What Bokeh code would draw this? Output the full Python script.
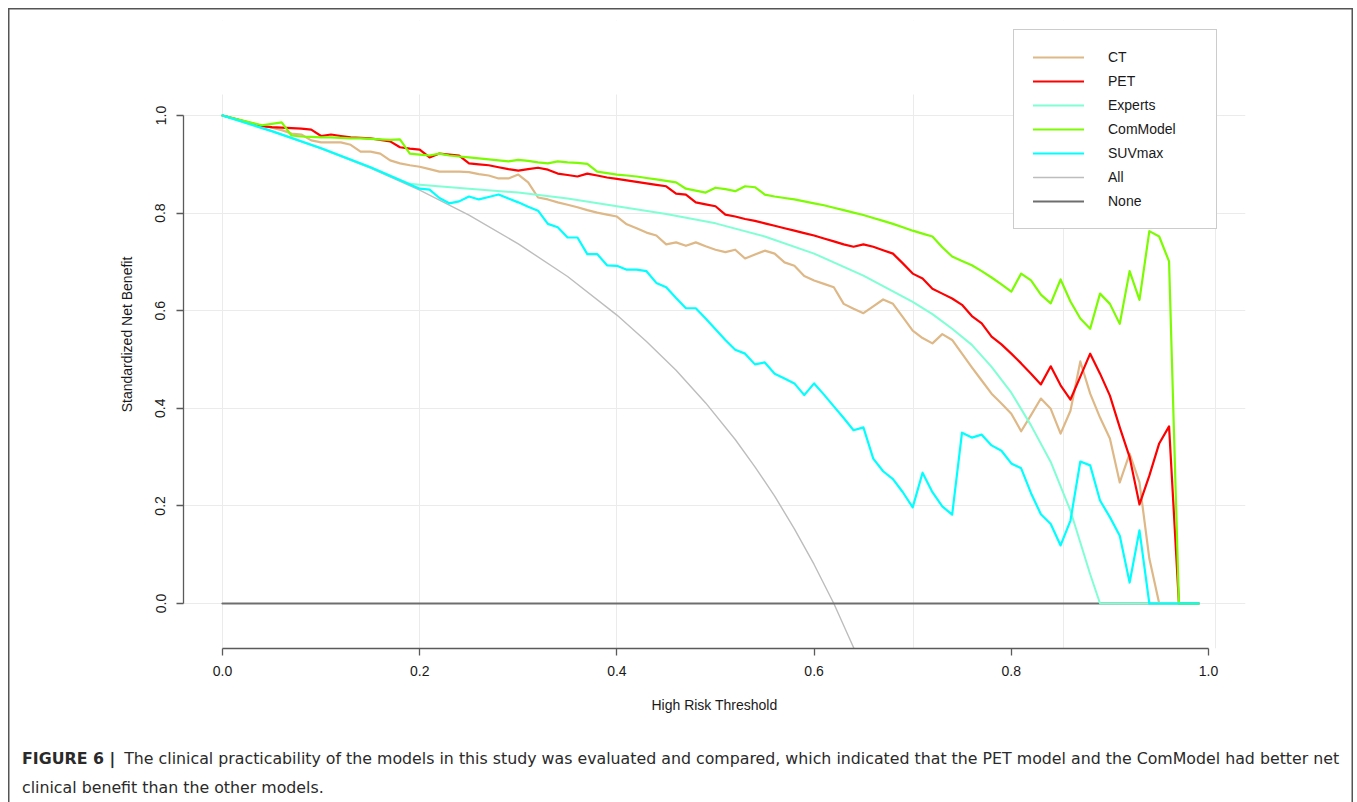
from bokeh.plotting import figure
from bokeh.layouts import column
from bokeh.models import (Range1d, FixedTicker, NumeralTickFormatter, Legend,
                          LegendItem, BoxAnnotation, Div)
from bokeh.embed import file_html
from bokeh.resources import INLINE

# ---------------- data ----------------
thresholds = [0.00, 0.04, 0.05, 0.06, 0.07, 0.08, 0.09,
              0.10, 0.11, 0.12, 0.13, 0.14, 0.15, 0.16, 0.17, 0.18, 0.19,
              0.20, 0.21, 0.22, 0.23, 0.24, 0.25, 0.26, 0.27, 0.28, 0.29,
              0.30, 0.31, 0.32, 0.33, 0.34, 0.35, 0.36, 0.37, 0.38, 0.39,
              0.40, 0.41, 0.42, 0.43, 0.44, 0.45, 0.46, 0.47, 0.48, 0.49,
              0.50, 0.51, 0.52, 0.53, 0.54, 0.55, 0.56, 0.57, 0.58, 0.59,
              0.60, 0.61, 0.62, 0.63, 0.64, 0.65, 0.66, 0.67, 0.68, 0.69,
              0.70, 0.71, 0.72, 0.73, 0.74, 0.75, 0.76, 0.77, 0.78, 0.79,
              0.80, 0.81, 0.82, 0.83, 0.84, 0.85, 0.86, 0.87, 0.88, 0.89,
              0.90, 0.91, 0.92, 0.93, 0.94, 0.95, 0.96, 0.97, 0.98, 0.99]

ct_snb = [1.000,
          0.979, 0.975, 0.970, 0.963, 0.961, 0.949,
          0.945, 0.945, 0.945, 0.940, 0.926, 0.926, 0.922, 0.908, 0.902, 0.898,
          0.895, 0.890, 0.885, 0.885, 0.885, 0.884, 0.880, 0.877, 0.871, 0.871,
          0.879, 0.863, 0.832, 0.828, 0.822, 0.817, 0.812, 0.806, 0.801, 0.797,
          0.793, 0.777, 0.769, 0.760, 0.754, 0.736, 0.740, 0.733, 0.740, 0.732,
          0.725, 0.720, 0.725, 0.707, 0.715, 0.723, 0.717, 0.699, 0.692, 0.671,
          0.662, 0.655, 0.648, 0.614, 0.604, 0.595, 0.609, 0.623, 0.614, 0.587,
          0.559, 0.544, 0.533, 0.552, 0.540, 0.512, 0.484, 0.457, 0.430, 0.410,
          0.389, 0.353, 0.386, 0.420, 0.399, 0.348, 0.395, 0.496, 0.430, 0.381,
          0.338, 0.248, 0.307, 0.248, 0.092, 0.000, 0.000, 0.000, 0.000, 0.000]

pet_snb = [1.000,
           0.978, 0.976, 0.975, 0.974, 0.973, 0.971,
           0.958, 0.961, 0.958, 0.955, 0.954, 0.953, 0.950, 0.947, 0.935, 0.932,
           0.930, 0.914, 0.922, 0.920, 0.918, 0.902, 0.900, 0.898, 0.894, 0.890,
           0.887, 0.890, 0.893, 0.889, 0.881, 0.878, 0.875, 0.881, 0.877, 0.873,
           0.870, 0.867, 0.864, 0.861, 0.858, 0.855, 0.840, 0.838, 0.822, 0.818,
           0.814, 0.797, 0.793, 0.788, 0.784, 0.779, 0.774, 0.769, 0.764, 0.759,
           0.754, 0.748, 0.742, 0.736, 0.731, 0.736, 0.731, 0.724, 0.717, 0.697,
           0.676, 0.666, 0.645, 0.635, 0.625, 0.612, 0.589, 0.574, 0.547, 0.531,
           0.512, 0.492, 0.471, 0.449, 0.486, 0.447, 0.418, 0.465, 0.512, 0.471,
           0.426, 0.361, 0.300, 0.203, 0.262, 0.328, 0.363, 0.000, 0.000, 0.000]

com_snb = [1.000,
           0.980, 0.983, 0.986, 0.959, 0.957, 0.956,
           0.955, 0.955, 0.954, 0.953, 0.953, 0.952, 0.951, 0.950, 0.951, 0.922,
           0.920, 0.918, 0.922, 0.918, 0.916, 0.914, 0.912, 0.910, 0.908, 0.906,
           0.909, 0.907, 0.904, 0.902, 0.906, 0.904, 0.903, 0.901, 0.885, 0.882,
           0.879, 0.877, 0.875, 0.872, 0.869, 0.866, 0.863, 0.850, 0.846, 0.842,
           0.852, 0.849, 0.845, 0.855, 0.853, 0.838, 0.834, 0.831, 0.828, 0.824,
           0.820, 0.816, 0.811, 0.806, 0.801, 0.796, 0.790, 0.784, 0.778, 0.771,
           0.764, 0.758, 0.752, 0.730, 0.711, 0.702, 0.693, 0.681, 0.668, 0.654,
           0.639, 0.676, 0.662, 0.633, 0.615, 0.664, 0.619, 0.584, 0.563, 0.635,
           0.614, 0.573, 0.681, 0.622, 0.763, 0.752, 0.701, 0.000, 0.000, 0.000]

suv_x = [0.00, 0.05, 0.10, 0.15,
         0.20, 0.21, 0.22, 0.23, 0.24, 0.25, 0.26, 0.27, 0.28, 0.29,
         0.30, 0.31, 0.32, 0.33, 0.34, 0.35, 0.36, 0.37, 0.38, 0.39,
         0.40, 0.41, 0.42, 0.43, 0.44, 0.45, 0.46, 0.47, 0.48, 0.49,
         0.50, 0.51, 0.52, 0.53, 0.54, 0.55, 0.56, 0.57, 0.58, 0.59,
         0.60, 0.61, 0.62, 0.63, 0.64, 0.65, 0.66, 0.67, 0.68, 0.69,
         0.70, 0.71, 0.72, 0.73, 0.74, 0.75, 0.76, 0.77, 0.78, 0.79,
         0.80, 0.81, 0.82, 0.83, 0.84, 0.85, 0.86, 0.87, 0.88, 0.89,
         0.90, 0.91, 0.92, 0.93, 0.94, 0.95, 0.96, 0.97, 0.98, 0.99]
suv_snb = [1.000, 0.968, 0.933, 0.894,
           0.850, 0.848, 0.831, 0.820, 0.824, 0.834, 0.828, 0.833, 0.838, 0.830,
           0.822, 0.813, 0.805, 0.778, 0.771, 0.750, 0.750, 0.716, 0.716, 0.693,
           0.692, 0.684, 0.684, 0.681, 0.657, 0.648, 0.626, 0.605, 0.605, 0.584,
           0.562, 0.540, 0.520, 0.512, 0.490, 0.494, 0.471, 0.461, 0.451, 0.427,
           0.451, 0.428, 0.404, 0.380, 0.355, 0.361, 0.297, 0.271, 0.255, 0.228,
           0.197, 0.268, 0.228, 0.199, 0.182, 0.350, 0.340, 0.346, 0.324, 0.313,
           0.287, 0.277, 0.226, 0.183, 0.163, 0.119, 0.170, 0.291, 0.283, 0.211,
           0.177, 0.139, 0.043, 0.150, 0.000, 0.000, 0.000, 0.000, 0.000, 0.000]

exp_x = [0.00, 0.05, 0.10, 0.15, 0.19, 0.20, 0.25, 0.30, 0.35, 0.40, 0.45,
         0.50, 0.55, 0.60, 0.65, 0.70, 0.72, 0.74, 0.76, 0.78, 0.80, 0.82,
         0.84, 0.86, 0.87, 0.88, 0.89, 0.99]
exp_snb = [1.000, 0.968, 0.933, 0.894, 0.860, 0.858, 0.850, 0.842, 0.830, 0.814, 0.798,
           0.779, 0.752, 0.717, 0.672, 0.618, 0.593, 0.563, 0.530, 0.485, 0.432, 0.365,
           0.290, 0.190, 0.125, 0.060, 0.000, 0.000]

all_x = [0.00, 0.05, 0.10, 0.15, 0.20, 0.25, 0.30, 0.35, 0.40, 0.43, 0.46,
         0.49, 0.52, 0.54, 0.56, 0.58, 0.60, 0.62, 0.64, 0.66]
all_snb = [1.000, 0.968, 0.932, 0.892, 0.847, 0.796, 0.737, 0.670, 0.591, 0.537, 0.478,
           0.411, 0.336, 0.280, 0.220, 0.153, 0.080, 0.000, -0.090, -0.190]

none_x = [0.00, 0.99]
none_snb = [0.0, 0.0]

x_ticks = [0.0, 0.2, 0.4, 0.6, 0.8, 1.0]
y_ticks = [0.0, 0.2, 0.4, 0.6, 0.8, 1.0]
x_grid_at = [0.0, 0.2, 0.4, 0.701, 0.853, 1.007]

series_names = ["CT", "PET", "Experts", "ComModel", "SUVmax", "All", "None"]
caption_bold = "FIGURE 6 |"
caption_line1 = ("The clinical practicability of the models in this study was evaluated and "
                 "compared, which indicated that the PET model and the ComModel had better net")
caption_line2 = "clinical benefit than the other models."

# ---------------- geometry ----------------
W = 1357
H_PLOT = 730                                   # main chart canvas height
H_CAP = 802 - H_PLOT                           # caption strip height
FL, FR, FT, FB = 183, 1245, 20, 648            # frame edges (canvas px)
GRID_TOP = 94                                  # where the R plot region ends
X0PX, XPU = 222.0, 986.0
Y0PX, YPU = 603.0, 488.0


def xd(px):
    return (px - X0PX) / XPU


def yd(py):
    return (Y0PX - py) / YPU


BORDER = "#555555"
box_top_sides = ("inset 8px 0 0 0 #ffffff, inset -4px 0 0 0 #ffffff, inset 0 8px 0 0 #ffffff, "
                 "inset 9.5px 0 0 0 %s, inset -5.5px 0 0 0 %s, inset 0 9.5px 0 0 %s"
                 % (BORDER, BORDER, BORDER))
box_sides = ("inset 8px 0 0 0 #ffffff, inset -4px 0 0 0 #ffffff, "
             "inset 9.5px 0 0 0 %s, inset -5.5px 0 0 0 %s" % (BORDER, BORDER))

p = figure(width=W, height=H_PLOT,
           x_range=Range1d(xd(FL), xd(FR)), y_range=Range1d(yd(FB), yd(FT)),
           output_backend="svg", toolbar_location=None,
           min_border_left=FL, min_border_right=W - FR,
           min_border_top=FT, min_border_bottom=H_PLOT - FB,
           background_fill_color="white", border_fill_color="white",
           border_fill_alpha=0.0, outline_line_color=None,
           styles={"box-shadow": box_top_sides, "background-color": "#ffffff"})

FONT = "Liberation Sans"
AX = "#5a5a5a"
for ax in (p.xaxis[0], p.yaxis[0]):
    ax.bounds = (0, 1)
    ax.formatter = NumeralTickFormatter(format="0.0")
    ax.minor_tick_line_color = None
    ax.major_tick_in = 0
    ax.major_tick_out = 7
    ax.axis_line_color = AX
    ax.axis_line_width = 1.3
    ax.major_tick_line_color = AX
    ax.major_tick_line_width = 1.3
    ax.major_label_text_font = FONT
    ax.major_label_text_font_size = "14px"
    ax.major_label_text_color = "#1a1a1a"
    ax.axis_label_text_font = FONT
    ax.axis_label_text_font_size = "14px"
    ax.axis_label_text_font_style = "normal"
    ax.axis_label_text_color = "#1a1a1a"

p.xaxis.ticker = FixedTicker(ticks=x_ticks)
p.yaxis.ticker = FixedTicker(ticks=y_ticks)
p.xaxis.axis_label = "High Risk Threshold"
p.yaxis.axis_label = "Standardized Net Benefit"
p.xaxis.major_label_standoff = 10
p.xaxis.axis_label_standoff = 18
p.yaxis.major_label_orientation = "vertical"
p.yaxis.major_label_standoff = 11
p.yaxis.axis_label_standoff = 18

p.xgrid.ticker = FixedTicker(ticks=x_grid_at)
p.ygrid.ticker = FixedTicker(ticks=y_ticks)
p.xgrid.grid_line_color = "#ebebeb"
p.ygrid.grid_line_color = "#ebebeb"
p.xgrid.grid_line_width = 1
p.ygrid.grid_line_width = 1

# white cover above the R plot region so the grid stops where the original does
p.add_layout(BoxAnnotation(bottom=yd(GRID_TOP), fill_color="white", fill_alpha=1.0,
                           line_color=None, level="underlay"))

# ---------------- curves ----------------
kw = dict(line_join="round", line_cap="round")
r_all = p.line(all_x, all_snb, line_color="#bdbdbd", line_width=1.4, **kw)
r_none = p.line(none_x, none_snb, line_color="#6e6e6e", line_width=2.2, **kw)
r_ct = p.line(thresholds, ct_snb, line_color="#DEB887", line_width=2.2, **kw)
r_pet = p.line(thresholds, pet_snb, line_color="#FF0000", line_width=2.2, **kw)
r_exp = p.line(exp_x, exp_snb, line_color="#7FFFD4", line_width=2.0, **kw)
r_com = p.line(thresholds, com_snb, line_color="#7CFC00", line_width=2.2, **kw)
r_suv = p.line(suv_x, suv_snb, line_color="#00FFFF", line_width=2.2, **kw)

renderers = [r_ct, r_pet, r_exp, r_com, r_suv, r_all, r_none]
items = [LegendItem(label=n, renderers=[r]) for n, r in zip(series_names, renderers)]

legend = Legend(items=items, location=(1013 - FL, FB - 229), orientation="vertical",
                padding=19, spacing=8, glyph_width=51, glyph_height=16,
                label_height=16, label_width=89, label_standoff=24, margin=0,
                label_text_font=FONT, label_text_font_size="14px",
                label_text_color="#1a1a1a", border_line_color="#9a9a9a",
                border_line_width=1, background_fill_color="white",
                background_fill_alpha=1.0)
p.add_layout(legend)

# ---------------- caption strip ----------------
caption_html = (
    '<div style="font-family:\'DejaVu Sans\',sans-serif;font-size:15.8px;'
    'line-height:29px;color:#2a2a2a;white-space:nowrap;margin:0;'
    'padding:13.5px 0 0 22px;">'
    '<b style="margin-right:4px;">' + caption_bold + '</b> ' + caption_line1 +
    '<br>' + caption_line2 + '</div>'
)
cap = Div(text=caption_html, width=W, height=H_CAP,
          styles={"box-shadow": box_sides, "background-color": "#ffffff",
                  "margin": "0", "padding": "0", "overflow": "hidden"})

page = column(p, cap, spacing=0)
open("out.html", "w").write(file_html(page, INLINE))
